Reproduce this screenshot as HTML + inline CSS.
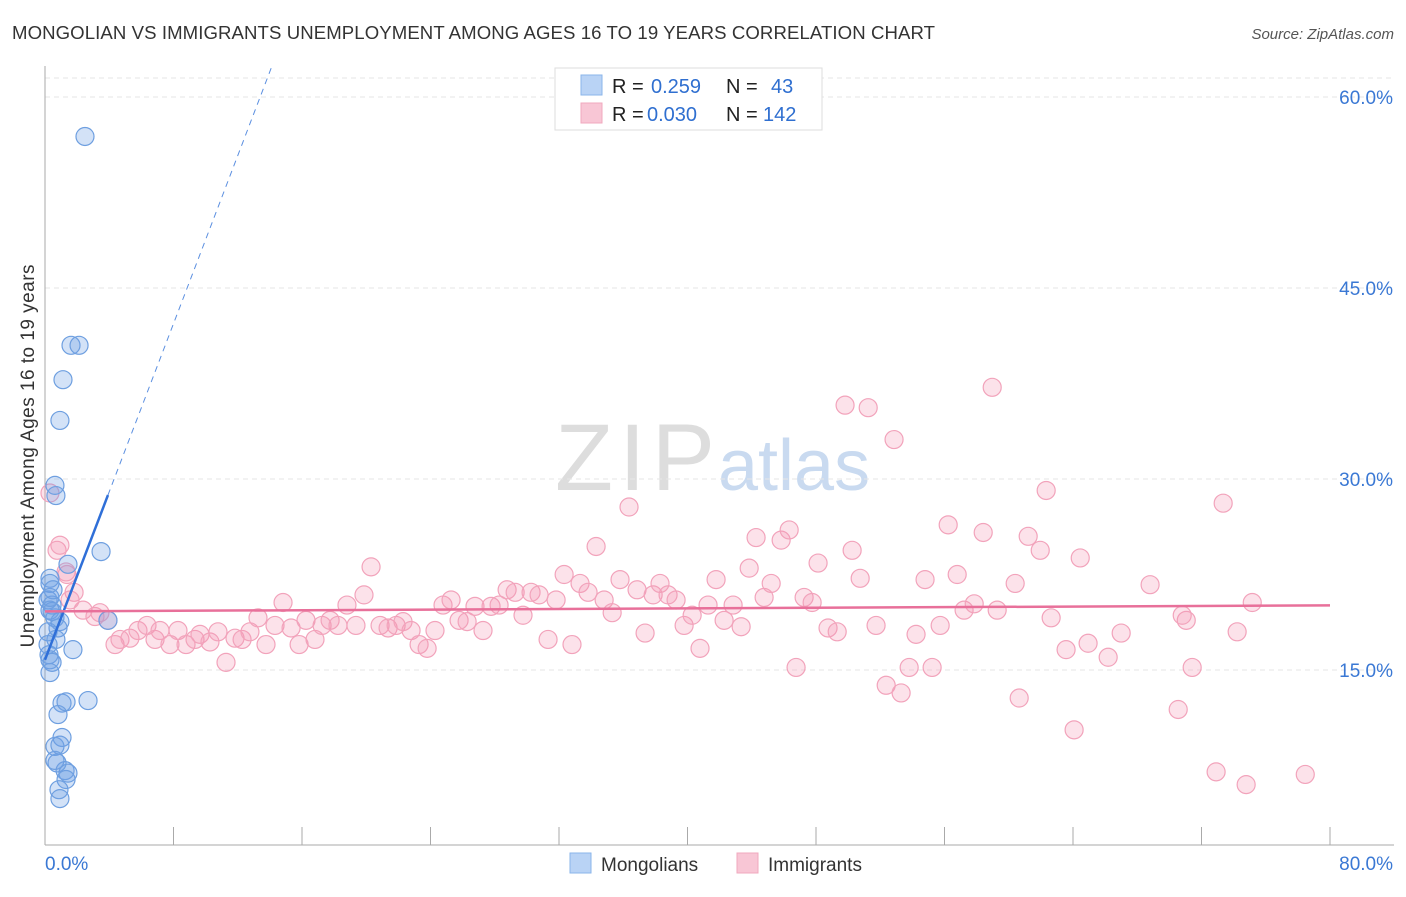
<!DOCTYPE html>
<html><head><meta charset="utf-8"><style>
body{margin:0;background:#fff;font-family:"Liberation Sans",sans-serif}
svg text{font-family:"Liberation Sans",sans-serif}
</style></head><body>
<svg id="c" width="1406" height="892">
<text x="12" y="39" font-size="18.6" fill="#333" textLength="923">MONGOLIAN VS IMMIGRANTS UNEMPLOYMENT AMONG AGES 16 TO 19 YEARS CORRELATION CHART</text>
<text x="1394" y="39" font-size="15" fill="#555" text-anchor="end" font-style="italic">Source: ZipAtlas.com</text>
<text x="555" y="490" font-size="95" fill="#ddd" textLength="160" font-family="Liberation Serif">ZIP</text>
<text x="718" y="490" font-size="72" fill="#c9daf0">atlas</text>
<text transform="translate(34,456) rotate(-90)" font-size="19" fill="#333" text-anchor="middle" textLength="383">Unemployment Among Ages 16 to 19 years</text>
<g id="grid"></g><g id="pts"></g><g id="lines"></g>
<g>
<rect x="555" y="68" width="267" height="62" fill="#fff" stroke="#ddd"/>
<rect x="581" y="75" width="21" height="20" fill="#b9d3f5" stroke="#8ab4ea"/>
<rect x="581" y="103" width="21" height="20" fill="#f8c6d5" stroke="#f0a8be"/>
<text x="612" y="93" font-size="20" fill="#222">R = </text><text x="651" y="93" font-size="20" fill="#2f6fd0">0.259</text>
<text x="726" y="93" font-size="20" fill="#222">N = </text><text x="771" y="93" font-size="20" fill="#2f6fd0">43</text>
<text x="612" y="121" font-size="20" fill="#222">R = </text><text x="647" y="121" font-size="20" fill="#2f6fd0">0.030</text>
<text x="726" y="121" font-size="20" fill="#222">N = </text><text x="763" y="121" font-size="20" fill="#2f6fd0">142</text>
</g>
<g>
<rect x="570" y="853" width="21" height="20" fill="#b9d3f5" stroke="#8ab4ea"/>
<text x="601" y="871" font-size="19" fill="#333">Mongolians</text>
<rect x="737" y="853" width="21" height="20" fill="#f8c6d5" stroke="#f0a8be"/>
<text x="768" y="871" font-size="19" fill="#333">Immigrants</text>
</g>
</svg>
<script>
const yTicks=[15,30,45,60];
const xTickLabels=["0.0%","80.0%"];
const blueX=[2.49,1.62,2.12,1.12,0.93,0.62,0.68,3.49,1.43,0.31,0.31,0.19,0.44,0.31,0.62,0.93,0.81,0.19,3.92,1.74,0.25,0.31,0.44,0.31,2.68,1.06,1.31,0.81,1.06,0.62,0.93,1.25,1.43,1.31,0.75,0.62,0.87,0.93,0.44,0.68,0.31,0.19,0.5];
const blueY=[56.9,40.5,40.5,37.8,34.6,29.5,28.7,24.3,23.3,22.2,21.8,20.5,20.1,19.7,19.1,18.8,18.3,18.0,18.9,16.6,16.2,15.8,15.6,14.8,12.6,12.4,12.5,11.5,9.7,9.0,9.1,7.1,6.9,6.4,7.7,7.9,5.6,4.9,19.6,17.4,20.7,17.0,21.3];
const pinkX=[0.75,1.37,1.81,2.37,3.11,3.42,4.36,3.92,4.67,5.29,5.79,6.35,6.85,7.16,7.78,8.28,8.78,9.34,9.65,10.27,10.77,11.27,11.83,12.27,12.76,13.26,13.76,14.32,14.82,15.32,15.82,16.25,16.81,17.25,17.75,18.24,18.8,19.36,19.86,20.3,20.86,21.36,21.86,22.29,22.79,23.29,23.79,24.28,24.78,25.28,25.78,26.28,26.77,27.27,27.77,28.27,28.77,29.27,29.76,30.26,30.76,31.32,31.82,32.32,32.81,33.31,33.81,34.31,34.81,35.31,35.8,36.36,36.86,37.36,37.86,38.29,38.79,39.29,39.79,40.29,40.78,41.28,41.78,42.28,42.84,43.34,43.84,44.27,44.77,45.21,45.83,46.33,46.76,47.26,47.76,48.13,48.75,49.32,49.81,50.25,50.75,51.25,51.74,52.37,52.86,53.3,53.8,54.23,54.79,55.23,55.73,56.23,56.79,57.22,57.85,58.41,58.97,59.28,60.4,60.65,61.21,61.96,62.33,62.64,63.57,64.07,64.45,64.94,66.19,67.0,68.8,70.55,71.05,71.42,70.8,72.91,73.35,74.22,74.78,75.16,78.46,0.31,0.93,1.31,1.56];
const pinkY=[24.4,22.5,21.1,19.7,19.2,19.5,17.0,18.9,17.4,17.5,18.1,18.5,17.4,18.1,17.0,18.1,17.0,17.4,17.8,17.2,18.0,15.6,17.5,17.4,18.0,19.1,17.0,18.5,20.3,18.3,17.0,18.9,17.4,18.5,18.9,18.5,20.1,18.5,20.9,23.1,18.5,18.3,18.5,18.8,18.1,17.0,16.7,18.1,20.1,20.5,18.9,18.8,20.0,18.1,20.0,20.1,21.3,21.1,19.3,21.1,20.9,17.4,20.5,22.5,17.0,21.8,21.1,24.7,20.5,19.5,22.1,27.8,21.3,17.9,20.9,21.8,20.9,20.5,18.5,19.3,16.7,20.1,22.1,18.9,20.1,18.4,23.0,25.4,20.7,21.8,25.2,26.0,15.2,20.7,20.3,23.4,18.3,18.0,35.8,24.4,22.2,35.6,18.5,13.8,33.1,13.2,15.2,17.8,22.1,15.2,18.5,26.4,22.5,19.7,20.2,25.8,37.2,19.7,21.8,12.8,25.5,24.4,29.1,19.1,16.6,10.3,23.8,17.1,16.0,17.9,21.7,11.9,18.9,15.2,19.3,7.0,28.1,18.0,6.0,20.3,6.8,28.9,24.8,22.7,20.5];
const blueLine=[15.8,3.3];
const pinkLine=[19.6,0.006];
const X0=45,X1=1330,YB=861,PPY=12.733;
const sx=v=>X0+v*(X1-X0)/80, sy=v=>YB-v*PPY;
const NS="http://www.w3.org/2000/svg";
function mk(t,a,p){const e=document.createElementNS(NS,t);for(const k in a)e.setAttribute(k,a[k]);p.appendChild(e);return e;}
const g=document.getElementById('grid');
let e=mk('line',{x1:X0,x2:1394,y1:78,y2:78,stroke:'#e6e6e6','stroke-dasharray':'5,4'},g);


yTicks.forEach(t=>{
 let l=mk('line',{x1:X0,x2:1394,y1:sy(t),y2:sy(t),stroke:'#e6e6e6','stroke-dasharray':'5,4'},g);
 
 
 let tx=mk('text',{x:1393,y:sy(t)+7,'font-size':19,fill:'#3a78d4','text-anchor':'end'},g);tx.textContent=t.toFixed(1)+'%';
 
 
});
e=mk('line',{x1:X0,x2:X0,y1:66,y2:845,stroke:'#aaa'},g);


e=mk('line',{x1:X0,x2:1394,y1:845,y2:845,stroke:'#aaa'},g);


for(let i=0;i<=10;i++){let l=mk('line',{x1:sx(i*8),x2:sx(i*8),y1:827,y2:845,stroke:'#aaa'},g);
 
 }
[[0,'start',45],[80,'end',1393]].forEach((d,i)=>{let t=mk('text',{x:d[2],y:870,'font-size':19,fill:'#3a78d4','text-anchor':d[1]},g);t.textContent=xTickLabels[i];
 
 });
const P=document.getElementById('pts');
pinkX.forEach((x,i)=>{let c=mk('circle',{cx:sx(x),cy:sy(pinkY[i]),r:9,fill:'rgba(244,150,180,0.28)',stroke:'#f2a3bb','stroke-width':1.2},P);
 
 });
blueX.forEach((x,i)=>{let c=mk('circle',{cx:sx(x),cy:sy(blueY[i]),r:9,fill:'rgba(110,160,230,0.3)',stroke:'#6e9fe0','stroke-width':1.2},P);
 
 });
const L=document.getElementById('lines');
const bx1=3.92,bx2=14.1;
e=mk('line',{x1:sx(0),y1:sy(blueLine[0]),x2:sx(bx1),y2:sy(blueLine[0]+blueLine[1]*bx1),stroke:'#2f6fd8','stroke-width':2.5},L);


e=mk('line',{x1:sx(bx1),y1:sy(blueLine[0]+blueLine[1]*bx1),x2:sx(bx2),y2:sy(blueLine[0]+blueLine[1]*bx2),stroke:'#5b8fe0','stroke-width':1,'stroke-dasharray':'6,5'},L);


e=mk('line',{x1:sx(0),y1:sy(pinkLine[0]),x2:sx(80),y2:sy(pinkLine[0]+pinkLine[1]*80),stroke:'#e8709a','stroke-width':2.5},L);


</script>
</body></html>
